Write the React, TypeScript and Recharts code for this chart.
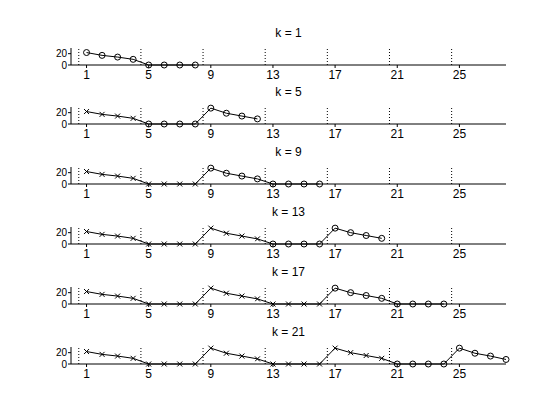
import { Line, LineChart, ReferenceLine, XAxis, YAxis } from "recharts";

// series observed at t = 1..28, blocks of 4 steps
const values = [
  22, 17, 14, 10, 0, 0, 0, 0,
  28, 19, 14, 9, 0, 0, 0, 0,
  28, 20, 15, 10, 0, 0, 0, 0,
  28, 19, 14, 8,
];
const steps = [1, 5, 9, 13, 17, 21];
const windowLength = 8;
const xTicks = [1, 5, 9, 13, 17, 21, 25];
const yTicks = [0, 20];
const blockEdges = [0.5, 4.5, 8.5, 12.5, 16.5, 20.5, 24.5];

const FONT = "'Liberation Sans', Arial, sans-serif";
const plotHeight = 17;
const topPad = 10;
const axisHeight = 20;

function buildRows(k: number) {
  return values.map((v, i) => {
    const x = i + 1;
    return {
      x,
      line: x <= k + windowLength - 1 ? v : null,
      past: x < k ? v : null,
      win: x >= k && x <= k + windowLength - 1 ? v : null,
    };
  });
}

const Cross = (props: any) => {
  const { cx, cy } = props;
  if (typeof cx !== "number" || typeof cy !== "number") return null;
  const s = 2.5;
  return (
    <path
      d={`M${cx - s},${cy - s}L${cx + s},${cy + s}M${cx - s},${cy + s}L${cx + s},${cy - s}`}
      stroke="#000"
      strokeWidth={1}
      fill="none"
    />
  );
};

const Ring = (props: any) => {
  const { cx, cy } = props;
  if (typeof cx !== "number" || typeof cy !== "number") return null;
  return <circle cx={cx} cy={cy} r={3} stroke="#000" strokeWidth={1} fill="none" />;
};

function Panel({ k, bottom }: { k: number; bottom: number }) {
  const data = buildRows(k);
  const height = topPad + plotHeight + axisHeight;
  return (
    <>
      <div
        style={{
          position: "absolute",
          left: 71,
          width: 435,
          top: bottom - 39,
          height: 14,
          lineHeight: "14px",
          textAlign: "center",
          fontSize: 12,
          fontFamily: FONT,
        }}
      >
        {`k = ${k}`}
      </div>
      <div style={{ position: "absolute", left: 0, top: bottom - plotHeight - topPad }}>
        <LineChart
          width={560}
          height={height}
          data={data}
          margin={{ top: topPad, right: 54, bottom: 0, left: 31 }}
        >
          <XAxis
            type="number"
            dataKey="x"
            domain={[0, 28]}
            ticks={xTicks}
            height={axisHeight}
            tickSize={3}
            tickMargin={2}
            stroke="#000"
            tick={{ fontSize: 12, fill: "#000", fontFamily: FONT }}
          />
          <YAxis
            domain={[0, 30]}
            ticks={yTicks}
            width={40}
            tickSize={3}
            tickMargin={1}
            stroke="#000"
            interval={0}
            tick={{ fontSize: 10, fill: "#000", fontFamily: FONT }}
          />
          {blockEdges.map((e) => (
            <ReferenceLine key={e} x={e} stroke="#000" strokeDasharray="1 2" />
          ))}
          <Line
            dataKey="line"
            stroke="#000"
            strokeWidth={1}
            dot={false}
            activeDot={false}
            isAnimationActive={false}
          />
          <Line
            dataKey="past"
            stroke="none"
            dot={<Cross />}
            activeDot={false}
            isAnimationActive={false}
          />
          <Line
            dataKey="win"
            stroke="none"
            dot={<Ring />}
            activeDot={false}
            isAnimationActive={false}
          />
        </LineChart>
      </div>
    </>
  );
}

export default function App() {
  return (
    <div
      style={{
        position: "absolute",
        left: 0,
        top: 0,
        width: 560,
        height: 420,
        background: "#fff",
        fontFamily: FONT,
      }}
    >
      {steps.map((k, i) => (
        <Panel key={k} k={k} bottom={64.5 + 59.9 * i} />
      ))}
    </div>
  );
}
